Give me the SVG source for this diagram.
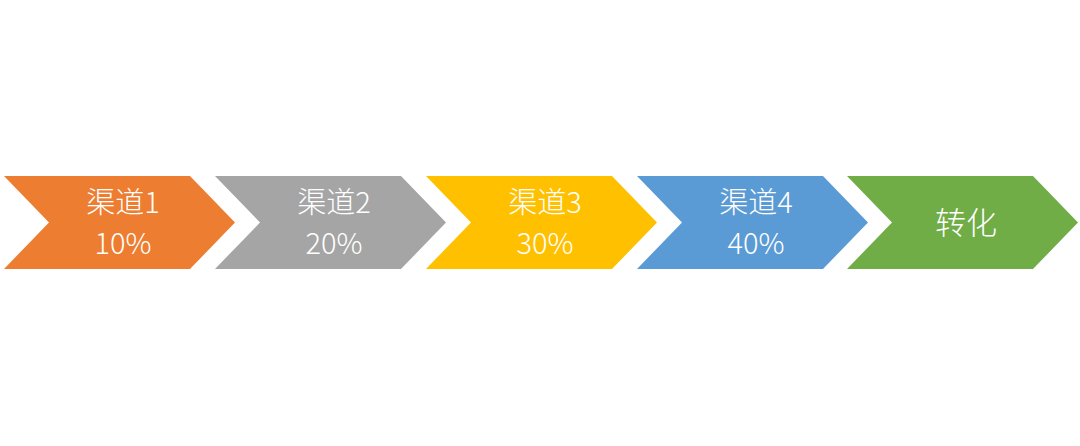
<svg xmlns="http://www.w3.org/2000/svg" width="1080" height="446" viewBox="0 0 1080 446">
<defs>
<style>
.t{fill:#ffffff;font-family:"Noto Sans CJK SC","Liberation Sans",sans-serif;font-size:29px;text-anchor:middle;font-weight:300}
</style>
<path id="chev" d="M0,176 L186,176 L231,222.5 L186,269 L0,269 L45,222.5 Z"/>
</defs>
<rect width="1080" height="446" fill="#ffffff"/>
<g id="node1" transform="translate(4,0)">
<use href="#chev" fill="#ED7D31"/>
<text class="t" x="119" y="213">渠道1</text>
<text class="t" x="119" y="254">10%</text>
</g>
<g id="node2" transform="translate(215,0)">
<use href="#chev" fill="#A5A5A5"/>
<text class="t" x="119" y="213">渠道2</text>
<text class="t" x="119" y="254">20%</text>
</g>
<g id="node3" transform="translate(426,0)">
<use href="#chev" fill="#FFC000"/>
<text class="t" x="119" y="213">渠道3</text>
<text class="t" x="119" y="254">30%</text>
</g>
<g id="node4" transform="translate(637,0)">
<use href="#chev" fill="#5B9BD5"/>
<text class="t" x="119" y="213">渠道4</text>
<text class="t" x="119" y="254">40%</text>
</g>
<g id="node5" transform="translate(847,0)">
<use href="#chev" fill="#70AD47"/>
<text class="t" x="119" y="234" style="font-size:31px">转化</text>
</g>
<g id="connectors"></g>
</svg>
